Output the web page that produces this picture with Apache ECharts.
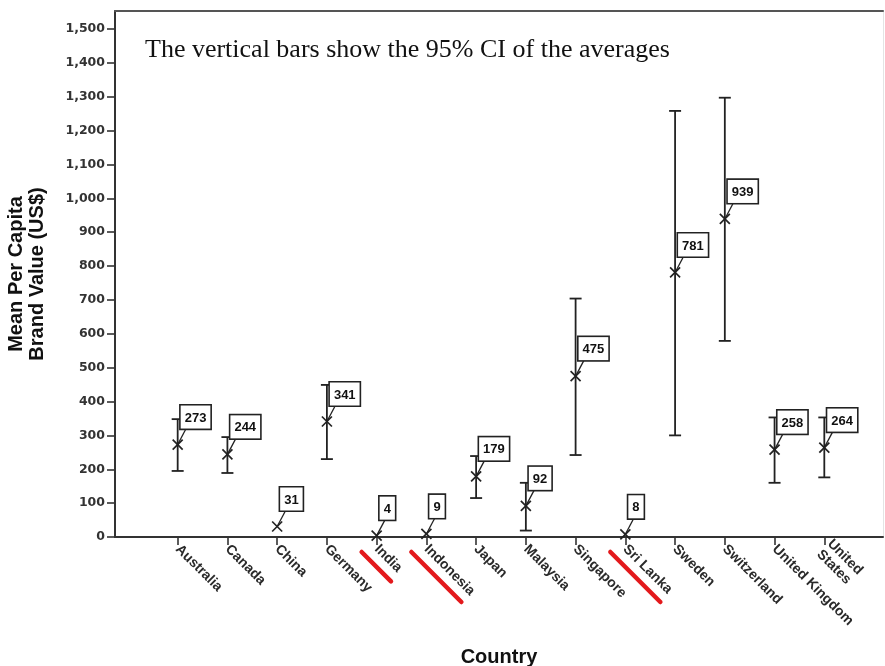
<!DOCTYPE html>
<html>
<head>
<meta charset="utf-8">
<script src="https://cdn.jsdelivr.net/npm/echarts@6.0.0/dist/echarts.min.js"></script>
<style>
  html, body { margin: 0; padding: 0; background: #fff; }
  #chart { width: 885px; height: 666px; }
</style>
</head>
<body>
<div id="chart"></div>
<script>
// data
const countries = ['Australia', 'Canada', 'China', 'Germany', 'India', 'Indonesia', 'Japan',
  'Malaysia', 'Singapore', 'Sri Lanka', 'Sweden', 'Switzerland', 'United Kingdom', 'United\nStates'];
const means = [273, 244, 31, 341, 4, 9, 179, 92, 475, 8, 781, 939, 258, 264];
const ciLow = [195, 189, null, 230, null, null, 115, 19, 242, null, 300, 579, 160, 176];
const ciHigh = [348, 295, null, 449, null, null, 239, 160, 704, null, 1258, 1297, 353, 353];
const yTicks = [0, 100, 200, 300, 400, 500, 600, 700, 800, 900, 1000, 1100, 1200, 1300, 1400, 1500];
const underlined = ['India', 'Indonesia', 'Sri Lanka'];
const note = 'The vertical bars show the 95% CI of the averages';

const ink = '#222';
const xIdx = countries.map((c, i) => i);

const chart = echarts.init(document.getElementById('chart'));

function renderItem(params, api) {
    const i = params.dataIndex;
    const p = api.coord([i, means[i]]);
    const base = api.coord([i, 0]);
    const kids = [];
    const line = (x1, y1, x2, y2, w) => ({
        type: 'line',
        shape: { x1: x1, y1: y1, x2: x2, y2: y2 },
        style: { stroke: ink, lineWidth: w || 1.6 }
    });
    if (ciLow[i] != null) {
        const lo = api.coord([i, ciLow[i]]);
        const hi = api.coord([i, ciHigh[i]]);
        kids.push(line(lo[0], lo[1], hi[0], hi[1], 1.8));
        kids.push(line(lo[0] - 6, lo[1], lo[0] + 6, lo[1], 1.8));
        kids.push(line(hi[0] - 6, hi[1], hi[0] + 6, hi[1], 1.8));
    }
    // X marker
    kids.push(line(p[0] - 5, p[1] - 5, p[0] + 5, p[1] + 5, 1.7));
    kids.push(line(p[0] - 5, p[1] + 5, p[0] + 5, p[1] - 5, 1.7));
    // leader + boxed value
    kids.push(line(p[0], p[1], p[0] + 9, p[1] - 17, 1.3));
    kids.push({
        type: 'text',
        x: p[0] + 3,
        y: p[1] - 16,
        style: {
            text: String(means[i]),
            fill: '#111',
            font: 'bold 13px "Liberation Sans", Arial, sans-serif',
            align: 'left',
            verticalAlign: 'bottom',
            backgroundColor: '#fff',
            borderColor: ink,
            borderWidth: 1.6,
            padding: [6, 4, 4, 4]
        }
    });
    // red hand-drawn underline under some country names
    if (underlined.indexOf(countries[i]) >= 0) {
        const len = countries[i].length * 7.3 + 5;
        const a = Math.PI / 4;
        const sx = base[0] - 15, sy = base[1] + 15;
        kids.push({
            type: 'line',
            shape: { x1: sx, y1: sy, x2: sx + len * Math.cos(a), y2: sy + len * Math.sin(a) },
            style: { stroke: '#e3191c', lineWidth: 4.5, lineCap: 'round' }
        });
    }
    return { type: 'group', children: kids };
}

chart.setOption({
    animation: false,
    grid: { left: 115, right: 2, top: 11, bottom: 129, outerBoundsMode: 'none' },
    xAxis: [{
        type: 'value',
        min: -1.26,
        max: 14.18,
        position: 'bottom',
        name: 'Country',
        nameLocation: 'middle',
        nameGap: 110,
        nameTextStyle: { fontFamily: 'Liberation Sans', fontWeight: 'bold', fontSize: 20, color: '#111' },
        axisLine: { onZero: false, lineStyle: { color: '#333', width: 2 } },
        axisTick: { customValues: xIdx, length: 8, lineStyle: { color: '#333', width: 1.6 } },
        axisLabel: {
            customValues: xIdx,
            formatter: v => countries[v] || '',
            rotate: -45,
            margin: 10,
            fontFamily: 'Liberation Sans',
            fontWeight: 'bold',
            fontSize: 14,
            lineHeight: 15,
            color: '#2a2a2a'
        },
        splitLine: { show: false }
    }, {
        type: 'value',
        min: -1.26,
        max: 14.18,
        position: 'top',
        axisLine: { onZero: false, lineStyle: { color: '#555', width: 2 } },
        axisTick: { show: false },
        axisLabel: { show: false },
        splitLine: { show: false }
    }],
    yAxis: [{
        type: 'value',
        min: 0,
        max: 1553,
        position: 'left',
        name: 'Mean Per Capita\nBrand Value (US$)',
        nameLocation: 'middle',
        nameGap: 67,
        nameTextStyle: { fontFamily: 'Liberation Sans', fontWeight: 'bold', fontSize: 20, lineHeight: 21, color: '#111' },
        axisLine: { onZero: false, lineStyle: { color: '#333', width: 2 } },
        axisTick: { customValues: yTicks, length: 8, lineStyle: { color: '#333', width: 1.6 } },
        axisLabel: {
            customValues: yTicks,
            formatter: v => v.toLocaleString('en-US'),
            margin: 10,
            fontFamily: 'DejaVu Sans',
            fontWeight: 'bold',
            fontSize: 12.5,
            color: '#333'
        },
        splitLine: { show: false }
    }, {
        type: 'value',
        min: 0,
        max: 1553,
        position: 'right',
        axisLine: { onZero: false, lineStyle: { color: '#e4e4e4', width: 1 } },
        axisTick: { show: false },
        axisLabel: { show: false },
        splitLine: { show: false }
    }],
    graphic: [{
        type: 'text',
        left: 145,
        top: 37,
        style: { text: note, font: '26px "Liberation Serif", "Times New Roman", serif', fill: '#111' }
    }],
    series: [{
        type: 'custom',
        renderItem: renderItem,
        clip: false,
        encode: { x: 0, y: 1 },
        data: means.map((m, i) => [i, m, ciLow[i], ciHigh[i]])
    }]
});
</script>
</body>
</html>
